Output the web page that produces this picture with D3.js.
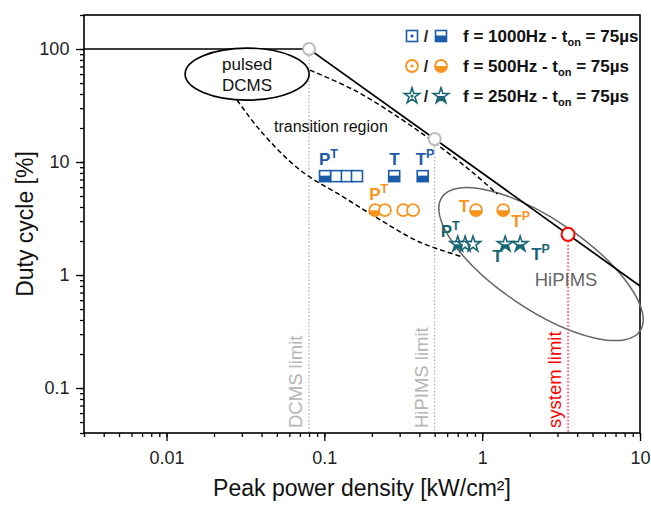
<!DOCTYPE html>
<html>
<head>
<meta charset="utf-8">
<script src="https://cdn.jsdelivr.net/npm/d3@7/dist/d3.min.js"></script>
<style>
body { margin: 0; background: #fff; }
text { font-family: "Liberation Sans", Arial, sans-serif; }
</style>
</head>
<body>
<svg id="chart" width="651" height="506"></svg>
<script>
// axis ticks
var xTickVals = [0.01, 0.1, 1, 10], xTickLabels = ['0.01', '0.1', '1', '10']
var yTickVals = [0.1, 1, 10, 100], yTickLabels = ['0.1', '1', '10', '100']

// duty cycle of each series (t_on = 75us)
var duty1000 = 7.5, duty500 = 3.75, duty250 = 1.875

// peak power densities [kW/cm2], 1 = half filled marker
var sqX = [0.101, 0.119, 0.139, 0.161, 0.277, 0.42]
var sqHalf = [1, 0, 0, 0, 1, 1]
var ciX = [0.21, 0.242, 0.316, 0.365, 0.915, 1.36]
var ciHalf = [1, 0, 0, 0, 1, 1]
var stX = [0.70, 0.78, 0.875, 1.40, 1.74]
var stHalf = [1, 0, 0, 1, 1]

// operating limit (100% duty up to DCMS limit, then constant average power)
var limitLineX = [0.003, 0.08, 10]
var limitLineY = [100, 100, 0.8]
var limitPtX = [0.08, 0.5, 3.5]
var limitPtY = [100, 16, 2.29]
var limitNames = ['DCMS limit', 'HiPIMS limit', 'system limit']

// transition region boundaries
var upperX = [0.081, 0.156, 0.30, 0.5, 0.85, 1.25]
var upperY = [65, 43, 24.5, 14.8, 8.3, 5.2]
var lowerX = [0.028, 0.039, 0.070, 0.126, 0.216, 0.40, 0.76]
var lowerY = [35.4, 19.2, 8.5, 5.1, 3.2, 1.96, 1.44]

var blue = '#1b5ca8', orange = '#f7941d', teal = '#1a6676'

var svg = d3.select('#chart')
var x = d3.scaleLog().domain([0.003, 10]).range([84, 640])
var y = d3.scaleLog().domain([0.04, 200]).range([433, 15])

function minors(dom) {
    var out = []
    for (var e = -3; e <= 2; e++) {
        for (var m = 1; m <= 9; m++) {
            var v = m * Math.pow(10, e)
            if (v >= dom[0] * 0.999 && v <= dom[1] * 1.001) out.push(v)
        }
    }
    return out
}

var defs = svg.append('defs')
defs.append('clipPath').attr('id', 'lowerHalf')
    .append('rect').attr('x', -20).attr('y', 0).attr('width', 40).attr('height', 20)

// axes
var ax = svg.append('g').attr('transform', 'translate(0,433)')
ax.call(d3.axisBottom(x).tickValues(minors(x.domain())).tickSize(4).tickFormat(''))
ax.append('g').call(d3.axisBottom(x).tickValues(xTickVals).tickSize(8)
    .tickFormat(function (d, i) { return xTickLabels[i] }))
var ay = svg.append('g').attr('transform', 'translate(84,0)')
ay.call(d3.axisLeft(y).tickValues(minors(y.domain())).tickSize(4).tickFormat(''))
ay.append('g').call(d3.axisLeft(y).tickValues(yTickVals).tickSize(8)
    .tickFormat(function (d, i) { return yTickLabels[i] }))
svg.selectAll('.domain').remove()
svg.selectAll('.tick line').attr('stroke', '#000').attr('stroke-width', 1.3)
svg.selectAll('.tick text').attr('font-size', 18).attr('fill', '#222')
    .attr('font-family', '"Liberation Sans", Arial, sans-serif')
ax.selectAll('.tick text').attr('dy', '1.1em')
ay.selectAll('.tick text').attr('dx', '-0.2em')

svg.append('rect').attr('x', 84).attr('y', 15).attr('width', 556).attr('height', 418)
    .attr('fill', 'none').attr('stroke', '#000').attr('stroke-width', 1.6)

svg.append('text').attr('x', 362).attr('y', 496).attr('text-anchor', 'middle')
    .attr('font-size', 23).attr('fill', '#111').text('Peak power density [kW/cm²]')
svg.append('text').attr('transform', 'translate(33,224) rotate(-90)').attr('text-anchor', 'middle')
    .attr('font-size', 23).attr('fill', '#111').text('Duty cycle [%]')

var plot = svg.append('g')

// limit verticals + labels
var limitCol = ['#aaa', '#aaa', '#f00']
limitPtX.forEach(function (v, i) {
    plot.append('line').attr('x1', x(v)).attr('x2', x(v))
        .attr('y1', y(limitPtY[i])).attr('y2', 433)
        .attr('stroke', limitCol[i]).attr('stroke-width', 1.2).attr('stroke-dasharray', '1.5,2')
    plot.append('text')
        .attr('transform', 'translate(' + (x(v) - 7) + ',' + y(0.0443) + ') rotate(-90)')
        .attr('font-size', 18.5).attr('fill', i == 2 ? '#f00' : '#b5b5b5').text(limitNames[i])
})

// HiPIMS ellipse
plot.append('ellipse').attr('cx', 0).attr('cy', 0).attr('rx', 119.5).attr('ry', 45)
    .attr('transform', 'translate(' + x(2.36) + ',' + y(1.25) + ') rotate(34)')
    .attr('fill', 'none').attr('stroke', '#666').attr('stroke-width', 1.5)
plot.append('text').attr('x', x(3.4)).attr('y', y(0.8)).attr('text-anchor', 'middle')
    .attr('font-size', 18.5).attr('fill', '#666').text('HiPIMS')

// transition region
var line = d3.line().x(function (d) { return x(d[0]) }).y(function (d) { return y(d[1]) })
    .curve(d3.curveCatmullRom.alpha(0.5))
plot.append('path').datum(d3.zip(upperX, upperY)).attr('d', line)
    .attr('fill', 'none').attr('stroke', '#000').attr('stroke-width', 1.5).attr('stroke-dasharray', '5,3')
plot.append('path').datum(d3.zip(lowerX, lowerY)).attr('d', line)
    .attr('fill', 'none').attr('stroke', '#000').attr('stroke-width', 1.5).attr('stroke-dasharray', '5,3')
plot.append('text').attr('x', x(0.11)).attr('y', y(18.4)).attr('text-anchor', 'middle')
    .attr('font-size', 16).attr('fill', '#111').text('transition region')

// limit line
var straight = d3.line().x(function (d) { return x(d[0]) }).y(function (d) { return y(d[1]) })
plot.append('path').datum(d3.zip(limitLineX, limitLineY)).attr('d', straight)
    .attr('fill', 'none').attr('stroke', '#000').attr('stroke-width', 1.7)

// pulsed DCMS ellipse
plot.append('ellipse').attr('cx', x(0.0324)).attr('cy', y(60)).attr('rx', 62).attr('ry', 26)
    .attr('fill', '#fff').attr('stroke', '#000').attr('stroke-width', 1.7)
plot.append('text').attr('x', x(0.0324)).attr('y', y(60) - 4).attr('text-anchor', 'middle')
    .attr('font-size', 17).attr('fill', '#111').text('pulsed')
plot.append('text').attr('x', x(0.0324)).attr('y', y(60) + 17).attr('text-anchor', 'middle')
    .attr('font-size', 17).attr('fill', '#111').text('DCMS')

// limit points
plot.selectAll('.lim').data(limitPtX).enter().append('circle')
    .attr('cx', function (d) { return x(d) })
    .attr('cy', function (d, i) { return y(limitPtY[i]) })
    .attr('r', function (d, i) { return i == 2 ? 6.5 : 6 })
    .attr('fill', '#fff')
    .attr('stroke', function (d, i) { return i == 2 ? '#f00' : '#bbb' })
    .attr('stroke-width', 2)

// markers
var starPath = d3.symbol(d3.symbolStar, 75)()
function marker(g, kind, half, col, dot) {
    if (kind == 'sq') {
        g.append('rect').attr('x', -5.5).attr('y', -5.5).attr('width', 11).attr('height', 11)
            .attr('fill', '#fff').attr('stroke', col).attr('stroke-width', 1.6)
        if (half) g.append('rect').attr('x', -5.5).attr('y', -0.5).attr('width', 11).attr('height', 6)
            .attr('fill', col)
    } else if (kind == 'ci') {
        g.append('circle').attr('r', 6).attr('fill', '#fff').attr('stroke', col).attr('stroke-width', 1.8)
        if (half) g.append('path').attr('d', 'M-6,0A6,6 0 0,0 6,0Z').attr('fill', col)
    } else {
        g.append('path').attr('d', starPath).attr('fill', '#fff').attr('stroke', col).attr('stroke-width', 1.6)
        if (half) g.append('path').attr('d', starPath).attr('fill', col).attr('clip-path', 'url(#lowerHalf)')
    }
    if (dot) g.append('circle').attr('r', 1.6).attr('fill', col)
}

function series(xs, halves, yv, kind, col) {
    plot.append('g').selectAll('g').data(xs).enter().append('g')
        .attr('transform', function (d) { return 'translate(' + x(d) + ',' + y(yv) + ')' })
        .each(function (d, i) { marker(d3.select(this), kind, halves[i], col, false) })
}
series(sqX, sqHalf, duty1000, 'sq', blue)
series(ciX, ciHalf, duty500, 'ci', orange)
series(stX, stHalf, duty250, 'st', teal)

// P / T labels next to markers
var labels = [
    { x: sqX[0], y: duty1000, t: 'P', s: 'T', dx: -6, dy: -11, c: blue },
    { x: sqX[4], y: duty1000, t: 'T', s: '', dx: -5, dy: -11, c: blue },
    { x: sqX[5], y: duty1000, t: 'T', s: 'P', dx: -7, dy: -11, c: blue },
    { x: ciX[0], y: duty500, t: 'P', s: 'T', dx: -6, dy: -10, c: orange },
    { x: ciX[4], y: duty500, t: 'T', s: '', dx: -17, dy: 2, c: orange },
    { x: ciX[5], y: duty500, t: 'T', s: 'P', dx: 8, dy: 17, c: orange },
    { x: stX[0], y: duty250, t: 'P', s: 'T', dx: -17, dy: -7, c: teal },
    { x: stX[3], y: duty250, t: 'T', s: '', dx: -13, dy: 18, c: teal },
    { x: stX[4], y: duty250, t: 'T', s: 'P', dx: 11, dy: 16, c: teal }
]
labels.forEach(function (l) {
    var t = plot.append('text').attr('x', x(l.x) + l.dx).attr('y', y(l.y) + l.dy)
        .attr('font-size', 17).attr('font-weight', 'bold').attr('fill', l.c).text(l.t)
    if (l.s) t.append('tspan').attr('font-size', 12.5).attr('dy', -7).text(l.s)
})

// legend
var legRows = [
    { kind: 'sq', col: blue, f: '1000' },
    { kind: 'ci', col: orange, f: '500' },
    { kind: 'st', col: teal, f: '250' }
]
legRows.forEach(function (r, i) {
    var cy = 36 + i * 30
    marker(svg.append('g').attr('transform', 'translate(412,' + cy + ')'), r.kind, 0, r.col, true)
    svg.append('text').attr('x', 426).attr('y', cy + 6).attr('text-anchor', 'middle')
        .attr('font-size', 16).attr('font-weight', 'bold').attr('fill', '#222').text('/')
    marker(svg.append('g').attr('transform', 'translate(441,' + cy + ')'), r.kind, 1, r.col, false)
    var t = svg.append('text').attr('x', 463).attr('y', cy + 6)
        .attr('font-size', 17).attr('font-weight', 'bold').attr('fill', '#111')
    t.append('tspan').text('f = ' + r.f + 'Hz - t')
    t.append('tspan').attr('font-size', 11).attr('dy', 4).text('on')
    t.append('tspan').attr('dy', -4).text(' = 75µs')
})
</script>
</body>
</html>
